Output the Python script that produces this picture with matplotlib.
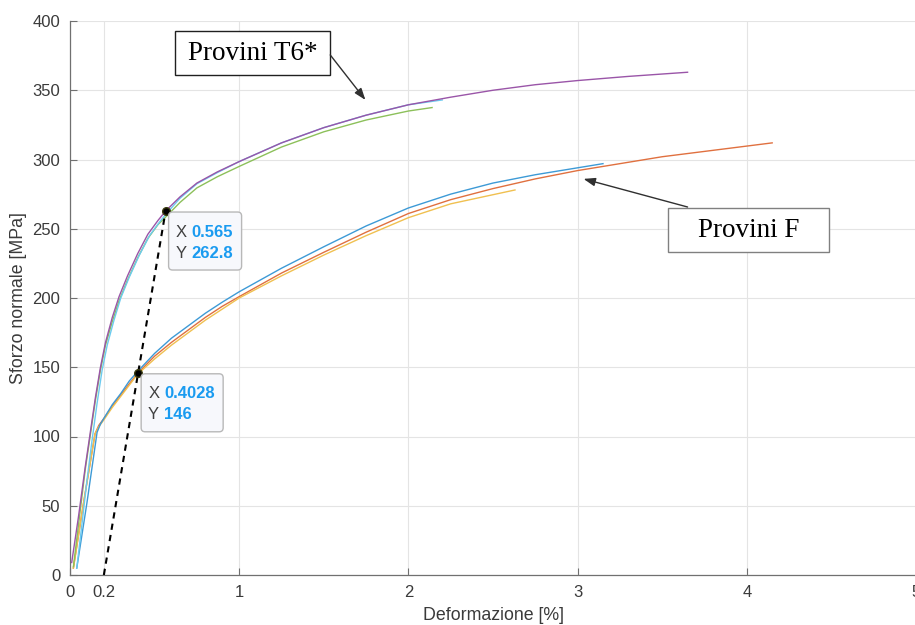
#!/usr/bin/env python3
"""Curve sforzo-deformazione, provini T6* e F, con offset 0.2%."""
import matplotlib
matplotlib.use("Agg")
import matplotlib.pyplot as plt
import matplotlib.transforms as mtransforms
from matplotlib.patches import FancyBboxPatch, Rectangle

# --- provini T6* ---
T6_VIOLA_X = [0.01, 0.05, 0.09, 0.12, 0.15, 0.18, 0.21, 0.25, 0.29, 0.34, 0.40, 0.46, 0.52, 0.565,
              0.65, 0.75, 0.87, 1.0, 1.25, 1.5, 1.75, 2.0, 2.25, 2.5, 2.75, 3.0, 3.3, 3.65]
T6_VIOLA_Y = [9, 42, 78, 103, 128, 150, 168, 186, 201, 216, 232, 246, 256, 262.8,
              273, 283, 291, 298.5, 312, 323, 332, 339.5, 345, 350, 354, 357, 360, 363]
T6_AZZURRO_X = [0.04, 0.07, 0.10, 0.13, 0.16, 0.19, 0.22, 0.26, 0.30, 0.35, 0.41, 0.47, 0.53, 0.57,
                0.65, 0.75, 0.87, 1.0, 1.25, 1.5, 1.75, 2.0, 2.2]
T6_AZZURRO_Y = [5, 36, 68, 97, 124, 148, 166, 184, 200, 215, 231, 245, 255, 261,
                272, 282.5, 290.5, 298.5, 312, 323, 332, 339.5, 343]
T6_VERDE_X = [0.02, 0.06, 0.09, 0.12, 0.15, 0.18, 0.21, 0.25, 0.29, 0.34, 0.40, 0.46, 0.52, 0.57,
              0.65, 0.75, 0.87, 1.0, 1.25, 1.5, 1.75, 2.0, 2.14]
T6_VERDE_Y = [6, 46, 76, 101, 126, 148, 166, 183, 198, 213, 229, 243, 253, 259,
              269, 279.5, 287.5, 295, 309, 320, 328.5, 335, 337.5]

# --- provini F ---
F_ARANCIO_X = [0.02, 0.08, 0.148, 0.17, 0.2, 0.25, 0.3, 0.35, 0.4028, 0.5, 0.6, 0.7, 0.8, 0.9, 1.0,
               1.25, 1.5, 1.75, 2.0, 2.25, 2.5, 2.75, 3.0, 3.5, 4.15]
F_ARANCIO_Y = [5, 52, 102, 108, 113, 122, 130, 138, 146, 158, 168, 177, 186, 194, 201,
               218, 233, 247.5, 261, 271, 279, 286, 292, 302, 312]
F_BLU_X = [0.04, 0.10, 0.16, 0.18, 0.2, 0.25, 0.3, 0.35, 0.4, 0.5, 0.6, 0.7, 0.8, 0.9, 1.0,
           1.25, 1.5, 1.75, 2.0, 2.25, 2.5, 2.75, 3.0, 3.15]
F_BLU_Y = [5, 52, 103, 109, 113, 123, 131, 140, 147, 160, 171, 180, 189, 197, 204.5,
           221.5, 237, 252, 265, 275, 283, 289, 294, 297]
F_GIALLO_X = [0.02, 0.08, 0.148, 0.17, 0.2, 0.25, 0.3, 0.35, 0.4, 0.5, 0.6, 0.7, 0.8, 0.9, 1.0,
              1.25, 1.5, 1.75, 2.0, 2.25, 2.63]
F_GIALLO_Y = [5, 52, 102, 107, 112, 121, 129, 137, 145, 156, 166, 175, 184, 192, 200,
              216, 231, 245, 258, 268, 278]

# retta offset 0.2%
OFFSET_X = [0.2, 0.565]
OFFSET_Y = [0.0, 262.8]

# punti di snervamento (datatip)
TIP_X = [0.565, 0.4028]
TIP_Y = [262.8, 146]
TIP_XLAB = ["0.565", "0.4028"]
TIP_YLAB = ["262.8", "146"]

XTICKS = [0, 0.2, 1, 2, 3, 4, 5]
XTICKLABELS = ["0", "0.2", "1", "2", "3", "4", "5"]
YTICKS = [0, 50, 100, 150, 200, 250, 300, 350, 400]

TICK_COLOR = "#3a3a3a"
TIP_BLUE = "#1a9bf0"


def datatip(ax, fig, x, y, xlab, ylab, width):
    trans = fig.dpi_scale_trans + mtransforms.ScaledTranslation(x, y, ax.transData)
    box = FancyBboxPatch((0.03, -0.59), width, 0.58, boxstyle="round,pad=0,rounding_size=0.04",
                         facecolor="#f7f8fc", edgecolor="#b8b8b8", linewidth=1.0,
                         transform=trans, zorder=6, clip_on=False)
    ax.add_patch(box)
    for dy, lab, val in [(-0.21, "X", xlab), (-0.42, "Y", ylab)]:
        ax.text(0.10, dy, lab, transform=trans, fontsize=12, color="#404040",
                va="center", ha="left", zorder=7)
        ax.text(0.26, dy, val, transform=trans, fontsize=12, color=TIP_BLUE, fontweight="bold",
                va="center", ha="left", zorder=7)


def label_box(ax, x0, y0, w, h, text, edge):
    # riquadro in frazione d'assi, testo centrato
    ax.add_patch(Rectangle((x0, y0), w, h, transform=ax.transAxes, facecolor="white",
                           edgecolor=edge, linewidth=1.0, zorder=8, clip_on=False))
    ax.text(x0 + w / 2, y0 + h / 2, text, transform=ax.transAxes, family="Liberation Serif",
            fontsize=19.5, color="black", ha="center", va="center", zorder=9)


def main() -> int:
    plt.rcParams["font.family"] = ["Liberation Sans", "DejaVu Sans"]
    fig = plt.figure(figsize=(9.15, 6.25), dpi=100)
    ax = fig.add_axes([70 / 915, 50 / 625, 846 / 915, 554 / 625])

    ax.plot(F_ARANCIO_X, F_ARANCIO_Y, color="#e0703f", linewidth=1.0, zorder=3)
    ax.plot(F_GIALLO_X, F_GIALLO_Y, color="#f0c050", linewidth=1.0, zorder=3)
    ax.plot(F_BLU_X, F_BLU_Y, color="#3d9ad6", linewidth=1.0, zorder=3)
    ax.plot(T6_VERDE_X, T6_VERDE_Y, color="#8cc05a", linewidth=1.0, zorder=3)
    ax.plot(T6_AZZURRO_X, T6_AZZURRO_Y, color="#6ccbf0", linewidth=1.0, zorder=3)
    ax.plot(T6_VIOLA_X, T6_VIOLA_Y, color="#9a55a8", linewidth=1.0, zorder=3)

    ax.plot(OFFSET_X, OFFSET_Y, color="black", linestyle=(0, (3, 2.5)), linewidth=1.5, zorder=4)
    ax.plot(TIP_X, TIP_Y, "o", color="black", markersize=5.5, markeredgecolor="#3a3a10", zorder=5)

    datatip(ax, fig, TIP_X[0], TIP_Y[0], TIP_XLAB[0], TIP_YLAB[0], 0.73)
    datatip(ax, fig, TIP_X[1], TIP_Y[1], TIP_XLAB[1], TIP_YLAB[1], 0.82)

    ax.set_xlim(0, 5)
    ax.set_ylim(0, 400)
    ax.set_xticks(XTICKS)
    ax.set_xticklabels(XTICKLABELS)
    ax.set_yticks(YTICKS)
    ax.tick_params(direction="in", length=5, width=0.8, colors="#707070", labelcolor=TICK_COLOR,
                   labelsize=12, pad=7)
    ax.grid(True, color="#e4e4e4", linewidth=0.8)
    ax.set_axisbelow(True)
    for side in ("top", "right"):
        ax.spines[side].set_visible(False)
    for side in ("left", "bottom"):
        ax.spines[side].set_color("#707070")
        ax.spines[side].set_linewidth(0.9)

    ax.set_xlabel("Deformazione [%]", fontsize=12.8, color=TICK_COLOR)
    ax.set_ylabel("Sforzo normale [MPa]", fontsize=12.8, color=TICK_COLOR)
    ax.xaxis.set_label_coords(0.5, -0.058)
    ax.yaxis.set_label_coords(-0.051, 0.5)

    label_box(ax, 0.124, 0.9025, 0.183, 0.0794, "Provini T6*", "#202020")
    label_box(ax, 0.707, 0.583, 0.190, 0.0794, "Provini F", "#808080")
    arrow = dict(arrowstyle="-|>,head_length=0.7,head_width=0.25", color="#303030", linewidth=1.0,
                 shrinkA=0, shrinkB=0)
    ax.annotate("", xy=(1.746, 343), xytext=(1.538, 375.5), arrowprops=arrow, zorder=8)
    ax.annotate("", xy=(3.035, 286), xytext=(3.65, 265.7), arrowprops=arrow, zorder=8)

    fig.savefig("out.png", dpi=100)
    return 0


if __name__ == "__main__":
    raise SystemExit(main())
